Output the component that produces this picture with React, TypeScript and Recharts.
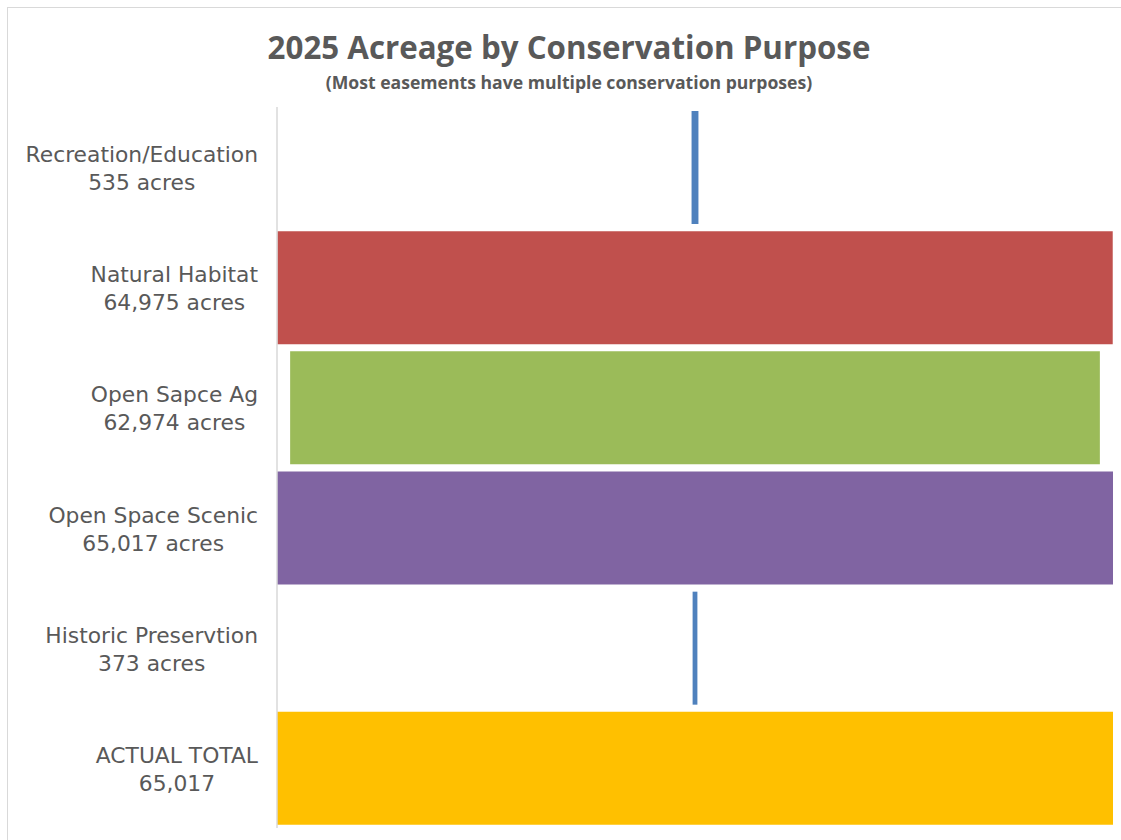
import React from "react";
import { Bar, BarChart, Cell, XAxis, YAxis } from "recharts";

const categories = [
  "Recreation/Education",
  "Natural Habitat",
  "Open Sapce Ag",
  "Open Space Scenic",
  "Historic Preservtion",
  "ACTUAL TOTAL",
];
const acres = [535, 64975, 62974, 65017, 373, 65017];
const subLabels = [
  "535 acres",
  "64,975 acres",
  "62,974 acres",
  "65,017 acres",
  "373 acres",
  "65,017",
];

const COLORS = ["#4F81BD", "#C0504D", "#9BBB59", "#8064A2", "#4F81BD", "#FFC000"];
const TEXT = "#595959";
const LABEL_SIZE = 21.8;
const LABEL_FONT = `${LABEL_SIZE}px 'DejaVu Sans'`;

const maxAcres = Math.max(...acres);

// centred bars: an invisible spacer pushes each bar to the middle
const chartData = categories.map((name, i) => ({
  name,
  sub: subLabels[i],
  spacer: (maxAcres - acres[i]) / 2,
  value: acres[i],
}));

let ctx: CanvasRenderingContext2D | null = null;
function textWidth(s: string) {
  if (!ctx) ctx = document.createElement("canvas").getContext("2d");
  if (!ctx) return s.length * 11;
  ctx.font = LABEL_FONT;
  return ctx.measureText(s).width;
}

// two-line label, block right-aligned at the axis, lines centred in the block
function CategoryTick(props: any) {
  const { y, payload, index } = props;
  const line1 = payload.value as string;
  const line2 = subLabels[index] ?? chartData.find((d) => d.name === line1)?.sub ?? "";
  const right = 258;
  const w = Math.max(textWidth(line1), textWidth(line2));
  const cx = right - w / 2;
  return (
    <text
      x={cx}
      y={y}
      textAnchor="middle"
      fill={TEXT}
      style={{ fontFamily: "'DejaVu Sans'", fontSize: LABEL_SIZE }}
    >
      <tspan x={cx} dy={-5}>
        {line1}
      </tspan>
      <tspan x={cx} dy={28}>
        {line2}
      </tspan>
    </text>
  );
}

export default function App() {
  return (
    <div
      style={{
        position: "absolute",
        left: 0,
        top: 0,
        width: 1121,
        height: 840,
        overflow: "hidden",
        background: "#fff",
      }}
    >
      <div
        style={{
          position: "absolute",
          left: 7,
          top: 7,
          width: 1200,
          height: 900,
          border: "1px solid #d9d9d9",
        }}
      />
      <div
        style={{
          position: "absolute",
          left: 0,
          width: 1138,
          top: 25,
          textAlign: "center",
          fontFamily: "'Open Sans'",
          fontWeight: 700,
          fontSize: 31.3,
          color: TEXT,
          lineHeight: "44px",
        }}
      >
        2025 Acreage by Conservation Purpose
      </div>
      <div
        style={{
          position: "absolute",
          left: 0,
          width: 1138,
          top: 70,
          textAlign: "center",
          fontFamily: "'Open Sans'",
          fontWeight: 700,
          fontSize: 17.6,
          color: TEXT,
          lineHeight: "24px",
        }}
      >
        (Most easements have multiple conservation purposes)
      </div>
      <div style={{ position: "absolute", left: 0, top: 0 }}>
        <BarChart
          width={1121}
          height={840}
          data={chartData}
          layout="vertical"
          margin={{ top: 107, right: 8, bottom: 12, left: 0 }}
          barSize={113}
        >
          <XAxis type="number" hide domain={[0, maxAcres]} />
          <YAxis
            type="category"
            dataKey="name"
            width={277}
            axisLine={{ stroke: "#d9d9d9", strokeWidth: 1.5 }}
            tickLine={false}
            tick={<CategoryTick />}
            interval={0}
          />
          <Bar dataKey="spacer" stackId="a" fill="transparent" isAnimationActive={false} />
          <Bar dataKey="value" stackId="a" isAnimationActive={false}>
            {chartData.map((_, i) => (
              <Cell key={i} fill={COLORS[i]} />
            ))}
          </Bar>
        </BarChart>
      </div>
    </div>
  );
}
